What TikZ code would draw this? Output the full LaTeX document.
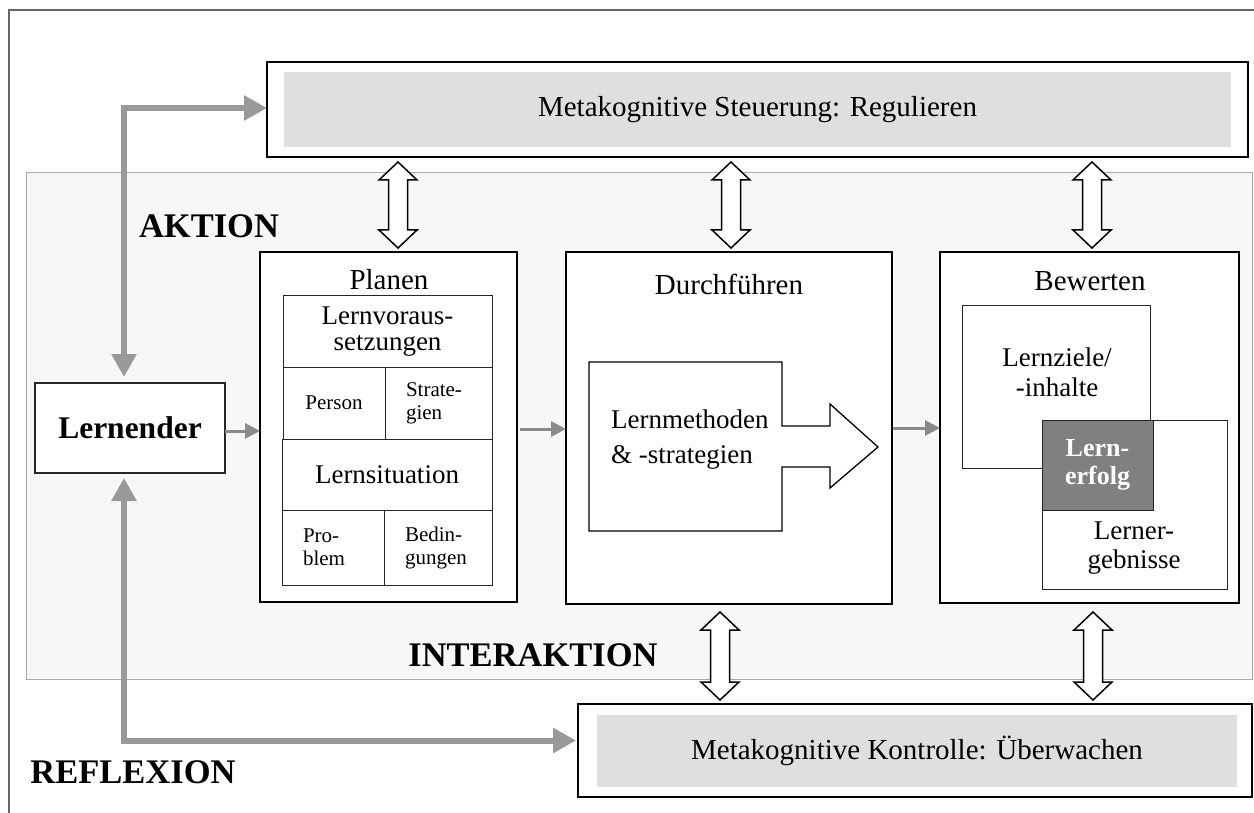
\documentclass[tikz,border=0pt]{standalone}
\usepackage{fontspec}
\setmainfont{Liberation Serif}
\usetikzlibrary{arrows.meta,calc}
\definecolor{panelfill}{HTML}{F7F7F7}
\definecolor{panelline}{HTML}{A8A8A8}
\definecolor{innergray}{HTML}{DFDFDF}
\definecolor{arrowgray}{HTML}{999999}
\definecolor{sarrowgray}{HTML}{8A8A8A}
\definecolor{erfolggray}{HTML}{808080}
\definecolor{framegray}{HTML}{666666}
\newcommand{\fsz}[2]{\fontsize{#1}{#2}\selectfont}
\newcommand{\hdarrow}[2]{%
  \draw[hollowarrow] let \p1=(#1), \p2=(#2) in
  (\x1,\y1) -- (\x1+19pt,\y1-18pt) -- (\x1+9.5pt,\y1-18pt) -- (\x1+9.5pt,\y2+18pt)
  -- (\x1+19pt,\y2+18pt) -- (\x1,\y2) -- (\x1-19pt,\y2+18pt) -- (\x1-9.5pt,\y2+18pt)
  -- (\x1-9.5pt,\y1-18pt) -- (\x1-19pt,\y1-18pt) -- cycle;}
\begin{document}
\begin{tikzpicture}[x=1pt,y=-1pt,
  box/.style 2 args={minimum width=#1pt,minimum height=#2pt,inner sep=0pt,outer sep=0pt},
  outerbox/.style={draw=black,line width=2.4pt,fill=white},
  innerbox/.style={fill=innergray,font=\fsz{29}{33}},
  mainbox/.style={draw=black,line width=2pt,fill=white},
  subbox/.style={draw=black!85,line width=1pt,fill=white},
  panelbox/.style={draw=panelline,line width=1pt,fill=panelfill},
  title/.style={font=\fsz{29}{33},inner sep=0pt},
  midtext/.style={font=\fsz{27}{30},align=center},
  smalltext/.style={font=\fsz{21}{23},align=left},
  biglabel/.style={font=\bfseries\fsz{34.5}{38},inner sep=0pt},
  hollowarrow/.style={draw=black,line width=1.5pt,fill=white,line join=miter},
  garrow/.style={draw=arrowgray,line width=6pt,{Triangle[length=23pt,width=24pt]}-{Triangle[length=23pt,width=24pt]}},
  sarrow/.style={draw=sarrowgray,line width=3pt,-{Triangle[length=15pt,width=15pt]}},
  framel/.style={draw=framegray,line width=1.5pt}
]
\useasboundingbox (0,0) rectangle (1254,813);
\fill[white] (0,0) rectangle (1254,813);
\draw[framel] (9,813) -- (9,10) -- (1254,10);

% panel
\node[panelbox, box={1226}{506}] (panel) at (639,426) {};

% top and bottom boxes
\node[outerbox, box={981}{95}] (steuer) at (757.5,109.5) {};
\node[innerbox, box={947}{75}] (steuerIn) at (757.5,109.5) {Metakognitive Steuerung: Regulieren};
\node[outerbox, box={674}{93}] (kontrolle) at (915,750.5) {};
\node[innerbox, box={640}{72}] (kontrolleIn) at (917,751) {Metakognitive Kontrolle: Überwachen};

% Lernender
\node[subbox, line width=1.2pt, box={190}{90}, font=\bfseries\fsz{31.5}{34}] (lernender) at (130,428) {Lernender};

% columns
\node[mainbox, box={257}{350}] (planen) at (388.5,427) {};
\node[mainbox, box={326}{352}] (durch) at (729,428) {};
\node[mainbox, box={299}{351}] (bewerten) at (1089.5,427.5) {};
\node[title] (planenT) at (389,280) {Planen};
\node[title] (durchT) at (729,284) {Durchführen};
\node[title] (bewertenT) at (1090,281) {Bewerten};

% Planen contents
\node[subbox, box={209}{71}, midtext, font=\fsz{27}{25.5}] (lv) at (387.5,331.5) {Lernvoraus-\\setzungen};
\node[subbox, box={102}{72}, font=\fsz{21}{23}] (person) at (334,403) {Person};
\node[subbox, box={107}{72}, smalltext, text width=65pt] (strat) at (438.5,403) {Strate-\\gien};
\node[subbox, box={210}{71}, midtext] (ls) at (387,474.5) {Lernsituation};
\node[subbox, box={102}{75}, smalltext, text width=60pt] (problem) at (333,547.5) {Pro-\\blem};
\node[subbox, box={108}{75}, smalltext, text width=66pt] (beding) at (438,547.5) {Bedin-\\gungen};

% Durchfuehren contents
\draw[draw=black,line width=1.3pt,fill=white,line join=miter]
  (589,362) -- (782,362) -- (782,426) -- (830,426) -- (830,404) -- (878,447)
  -- (830,488) -- (830,467) -- (782,467) -- (782,531) -- (589,531) -- cycle;
\node[anchor=west, align=left, inner sep=0pt, font=\fsz{27}{35}] (lmText) at (611,440) {Lernmethoden\\\& -strategien};

% Bewerten contents
\node[subbox, box={188}{162}] (lz) at (1056,387) {};
\node[subbox, box={185}{169}] (le) at (1134.5,504.5) {};
\node[subbox, box={111}{90}, fill=erfolggray, text=white, align=center, font=\bfseries\fsz{26}{28}] (erfolg) at (1097.5,465) {Lern-\\erfolg};
\node[midtext, inner sep=0pt] (lzText) at (1057,372) {Lernziele/\\-inhalte};
\node[midtext, inner sep=0pt, font=\fsz{27}{29}] (leText) at (1134,548) {Lerner-\\gebnisse};

% labels
\node[biglabel] (aktion) at (209,226) {AKTION};
\node[biglabel] (interaktion) at (533,655) {INTERAKTION};
\node[biglabel] (reflexion) at (133,772) {REFLEXION};

% gray L arrows
\draw[garrow] ([xshift=-6pt,yshift=6pt]lernender.north) |- ([yshift=1.5pt]steuer.west);
\draw[garrow] ([xshift=-6pt,yshift=-5pt]lernender.south) |- ([yshift=10pt,xshift=-2pt]kontrolle.west);

% small arrows
\draw[sarrow] ([yshift=-3pt]lernender.east) -- ([yshift=-3pt]lernender.east -| planen.west);
\draw[sarrow] ([xshift=3pt,yshift=-2pt]planen.east) -- ([yshift=-2pt]planen.east -| durch.west);
\draw[sarrow] ([xshift=1pt]durch.east) -- (durch.east -| bewerten.west);

% hollow double arrows
\coordinate (a1t) at (398,162); \coordinate (a1b) at (398,248);
\coordinate (a2t) at (731,162); \coordinate (a2b) at (731,248);
\coordinate (a3t) at (1092,162); \coordinate (a3b) at (1092,248);
\coordinate (b1t) at (720,612); \coordinate (b1b) at (720,700);
\coordinate (b2t) at (1093,612); \coordinate (b2b) at (1093,700);
\hdarrow{a1t}{a1b}
\hdarrow{a2t}{a2b}
\hdarrow{a3t}{a3b}
\hdarrow{b1t}{b1b}
\hdarrow{b2t}{b2b}
\end{tikzpicture}
\end{document}
